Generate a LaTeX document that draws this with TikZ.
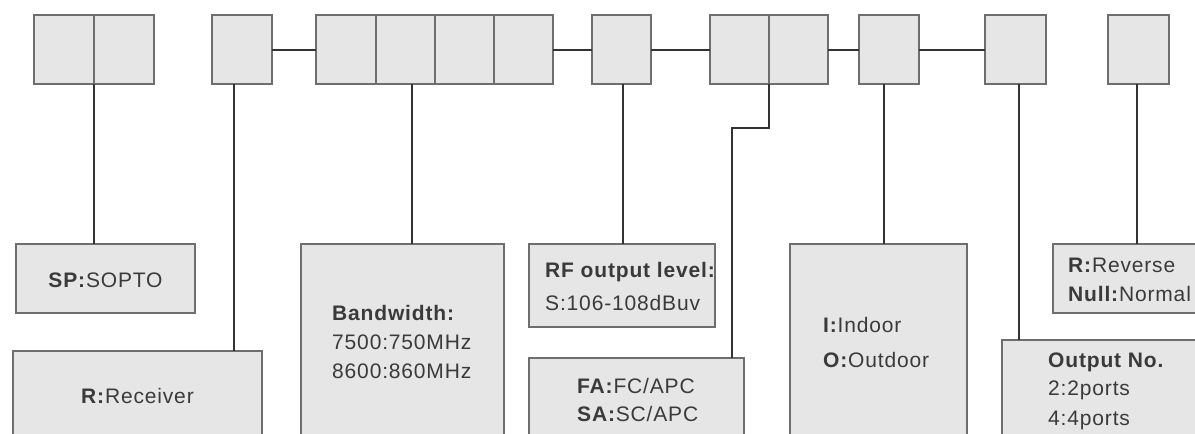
\documentclass[tikz,border=0pt]{standalone}
\usepackage{fontspec}
\setmainfont{Liberation Sans}[LetterSpace=4]
\definecolor{boxfill}{HTML}{E6E6E6}
\definecolor{boxline}{HTML}{6E6E6E}
\definecolor{wirec}{HTML}{333333}
\definecolor{txt}{HTML}{3A3A3A}
\begin{document}
\begin{tikzpicture}[x=1pt,y=-1pt,
  box/.style={draw=boxline, fill=boxfill, line width=1.8pt, anchor=north west, inner sep=0pt, outer sep=0pt},
  wire/.style={draw=wirec, line width=2pt},
  lab/.style={text=txt, font=\fontsize{21}{25}\selectfont, inner sep=0pt},
]
\useasboundingbox (0,0) rectangle (1195,434);
\clip (0,0) rectangle (1195,434);
\fill[white] (0,0) rectangle (1195,434);

% top code boxes
\node[box,minimum width=60,minimum height=69] (sp1) at (34,15) {};
\node[box,minimum width=60,minimum height=69] (sp2) at (94,15) {};
\node[box,minimum width=60,minimum height=69] (r) at (212,15) {};
\node[box,minimum width=60,minimum height=69] (bw1) at (316,15) {};
\node[box,minimum width=59,minimum height=69] (bw2) at (376,15) {};
\node[box,minimum width=59,minimum height=69] (bw3) at (435,15) {};
\node[box,minimum width=59,minimum height=69] (bw4) at (494,15) {};
\node[box,minimum width=59,minimum height=69] (rf) at (592,15) {};
\node[box,minimum width=59,minimum height=69] (fa1) at (710,15) {};
\node[box,minimum width=59,minimum height=69] (fa2) at (769,15) {};
\node[box,minimum width=60,minimum height=69] (io) at (859,15) {};
\node[box,minimum width=61,minimum height=69] (out) at (985,15) {};
\node[box,minimum width=61,minimum height=69] (rev) at (1108,15) {};

% label boxes
\node[box,minimum width=179,minimum height=69] (splab) at (16,244) {};
\node[box,minimum width=249,minimum height=120] (rlab) at (13,351) {};
\node[box,minimum width=203,minimum height=220] (bwlab) at (301,244) {};
\node[box,minimum width=186,minimum height=83] (rflab) at (529,244) {};
\node[box,minimum width=215,minimum height=120] (falab) at (529,358) {};
\node[box,minimum width=177,minimum height=220] (iolab) at (790,244) {};
\node[box,minimum width=170,minimum height=69] (revlab) at (1053,244) {};
\node[box,minimum width=220,minimum height=120] (outlab) at (1002,340) {};

% horizontal connectors
\draw[wire] (r.east) -- (bw1.west);
\draw[wire] (bw4.east) -- (rf.west);
\draw[wire] (rf.east) -- (fa1.west);
\draw[wire] (fa2.east) -- (io.west);
\draw[wire] (io.east) -- (out.west);

% vertical connectors
\draw[wire] (sp1.south east) -- (sp1.south east |- splab.north);
\draw[wire] ([xshift=22pt]r.south west) -- ([xshift=22pt]r.south west |- rlab.north);
\draw[wire] ([xshift=36pt]bw2.south west) -- ([xshift=36pt]bw2.south west |- bwlab.north);
\draw[wire] ([xshift=31pt]rf.south west) -- ([xshift=31pt]rf.south west |- rflab.north);
\coordinate (fabend) at (732,128);
\draw[wire] (fa1.south east) |- (fabend) -- (fabend |- falab.north);
\draw[wire] ([xshift=25pt]io.south west) -- ([xshift=25pt]io.south west |- iolab.north);
\draw[wire] ([xshift=34pt]out.south west) -- ([xshift=34pt]out.south west |- outlab.north);
\draw[wire] ([xshift=29pt]rev.south west) -- ([xshift=29pt]rev.south west |- revlab.north);

% texts
\node[lab,anchor=base] (tsp) at (105.5,287) {\textbf{SP:}SOPTO};
\node[lab,anchor=base] (tr) at (137.5,403) {\textbf{R:}Receiver};
\node[lab,anchor=base west] (tbw1) at (332,320) {\textbf{Bandwidth:}};
\node[lab,anchor=base west] (tbw2) at (332,349) {7500:750MHz};
\node[lab,anchor=base west] (tbw3) at (332,378) {8600:860MHz};
\node[lab,anchor=base west] (trf1) at (545,277) {\textbf{RF output level:}};
\node[lab,anchor=base west] (trf2) at (545,310) {S:106-108dBuv};
\node[lab,anchor=base west] (tfa1) at (577,393) {\textbf{FA:}FC/APC};
\node[lab,anchor=base west] (tfa2) at (577,421) {\textbf{SA:}SC/APC};
\node[lab,anchor=base west] (tio1) at (823,332) {\textbf{I:}Indoor};
\node[lab,anchor=base west] (tio2) at (823,367) {\textbf{O:}Outdoor};
\node[lab,anchor=base west] (trv1) at (1068,272) {\textbf{R:}Reverse};
\node[lab,anchor=base west] (trv2) at (1068,301) {\textbf{Null:}Normal};
\node[lab,anchor=base west] (tout1) at (1048,367) {\textbf{Output No.}};
\node[lab,anchor=base west] (tout2) at (1048,395) {2:2ports};
\node[lab,anchor=base west] (tout3) at (1048,425) {4:4ports};
\end{tikzpicture}
\end{document}
